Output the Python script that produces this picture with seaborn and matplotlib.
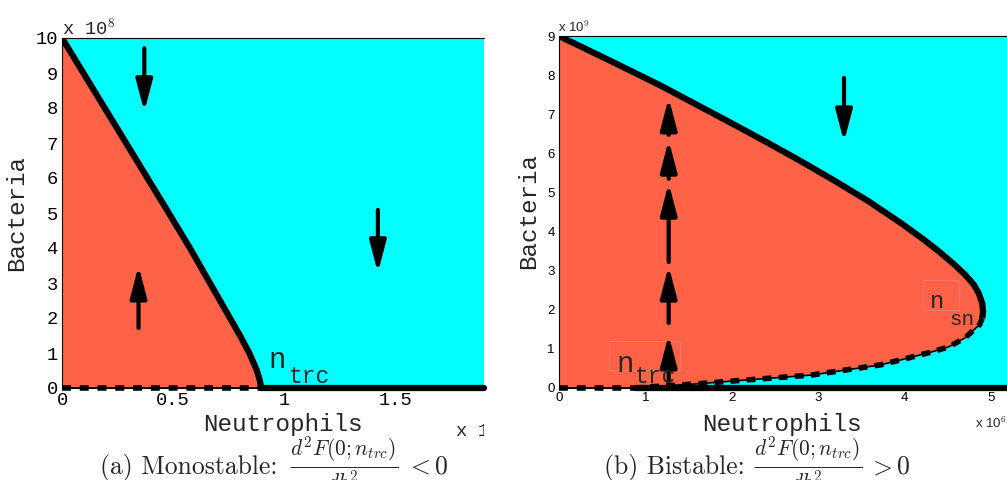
import numpy as np
import pandas as pd
import matplotlib
matplotlib.use('Agg')
import matplotlib.pyplot as plt
import matplotlib.transforms as mtransforms
from matplotlib.patches import Rectangle
import seaborn as sns

# ---- data ----
# (a) monostable: separatrix from (0, 10e8) down to n_trc
mono_x = [0.0, 0.096, 0.192, 0.288, 0.384, 0.48, 0.575, 0.665, 0.71, 0.755, 0.80, 0.842, 0.876, 0.89, 0.895]
mono_y = [10.0, 9.0, 8.0, 7.0, 6.0, 5.0, 4.0, 3.0, 2.5, 2.0, 1.5, 1.0, 0.5, 0.2, 0.0]
mono_ntrc = 0.895
mono_xmax = 1.897

# (b) bistable: upper (stable) and lower (unstable) branches
upper_x = [0.0, 0.6, 1.17, 1.52, 1.99, 2.40, 2.80, 3.19, 3.58, 3.97, 4.22, 4.40,
           4.58, 4.70, 4.80, 4.86, 4.90, 4.91, 4.90]
upper_y = [9.0, 8.36, 7.74, 7.33, 6.78, 6.29, 5.80, 5.30, 4.78, 4.20, 3.80, 3.49,
           3.15, 2.90, 2.65, 2.42, 2.17, 1.95, 1.78]
lower_x = [4.90, 4.87, 4.70, 4.51, 4.31, 4.05, 3.72, 2.92, 2.14, 1.56, 1.06, 0.9]
lower_y = [1.78, 1.62, 1.28, 1.05, 0.92, 0.77, 0.59, 0.33, 0.20, 0.10, 0.03, 0.0]
bi_ntrc = 0.88
bi_xmax = 5.21

# arrows: (x, y_tail, y_tip)
mono_arrows = [(0.37, 9.71, 7.89), (0.344, 1.71, 3.49), (1.42, 5.09, 3.29)]
bi_arrows = [(3.30, 7.93, 6.29), (1.27, 0.2, 1.36), (1.27, 1.66, 3.12),
             (1.27, 3.22, 5.24), (1.27, 5.35, 6.34), (1.27, 6.47, 7.42)]

mono_yticks = list(range(0, 11))
mono_xticks = [0, 0.5, 1, 1.5]
mono_xticklabels = ['0', '0.5', '1', '1.5']
bi_yticks = list(range(0, 10))
bi_xticks = [0, 1, 2, 3, 4, 5]

caption_heads = ['(a) Monostable:', '(b) Bistable:']
caption_frac = r'$\frac{d^2F(0;n_{trc})}{db^2}$'
caption_tails = [r'$< 0$', r'$> 0$']

CYAN = '#00FFFF'
TOMATO = '#FF6347'
MONO = 'Liberation Mono'
SANS = 'Liberation Sans'

sns.set_style('white')
plt.rcParams['font.family'] = ['DejaVu Sans']
plt.rcParams['mathtext.fontset'] = 'cm'

W, H = 1007, 480
fig = plt.figure(figsize=(W / 100, H / 100), dpi=100)
ax1 = fig.add_axes([62 / W, 1 - 388 / H, 422 / W, 350 / H])
ax2 = fig.add_axes([559 / W, 1 - 388 / H, 450 / W, 352 / H])

line_kw = dict(solid_joinstyle='round', solid_capstyle='butt')


def arrow(ax, x, y0, y1):
    ax.annotate('', xy=(x, y1), xytext=(x, y0),
                arrowprops=dict(arrowstyle='-|>,head_length=1.9,head_width=0.5',
                                lw=3, color='black', shrinkA=0, shrinkB=0),
                zorder=6)


def style_axes(ax, font, size):
    ax.set_facecolor(CYAN)
    ax.spines['right'].set_visible(False)
    for s in ['left', 'top', 'bottom']:
        ax.spines[s].set_color('black')
        ax.spines[s].set_linewidth(0.8)
    ax.tick_params(direction='in', length=3, width=0.6, colors='black',
                   labelsize=size, pad=3)
    for lab in ax.get_xticklabels() + ax.get_yticklabels():
        lab.set_fontfamily(font)


# ---------------- (a) monostable ----------------
mono = pd.DataFrame({'x': mono_x, 'y': mono_y})
ax1.fill_betweenx(mono['y'], 0, mono['x'], color=TOMATO, lw=0, zorder=1)
sns.lineplot(data=mono, x='x', y='y', sort=False, estimator=None, ax=ax1,
             color='black', lw=4.5, zorder=4, **line_kw)
ax1.plot([0, mono_ntrc], [0, 0], color='black', lw=1.2, zorder=3)
ax1.plot([0, mono_ntrc], [0, 0], color='black', lw=4, dashes=(1.6, 1.6), zorder=4,
         clip_on=False)
ax1.plot([mono_ntrc, mono_xmax], [0, 0], color='black', lw=4.5, zorder=4, clip_on=False)
for x, a, b in mono_arrows:
    arrow(ax1, x, a, b)

ax1.set_xlim(0, mono_xmax)
ax1.set_ylim(0, 10)
ax1.set_xticks(mono_xticks)
ax1.set_xticklabels(mono_xticklabels)
ax1.set_yticks(mono_yticks)
style_axes(ax1, MONO, 13.5)
ax1.set_xlabel('Neutrophils', fontfamily=MONO, fontsize=17.5)
ax1.set_ylabel('Bacteria', fontfamily=MONO, fontsize=17.5)
ax1.xaxis.set_label_coords(0.524, -0.072)
ax1.yaxis.set_label_coords(-0.08, 0.5)
ax1.text(0.93, 0.57, 'n', fontfamily=MONO, fontsize=21, zorder=7)
ax1.text(1.02, 0.14, 'trc', fontfamily=MONO, fontsize=16.5, zorder=7)
ax1.text(62 / W, 1 - 35 / H, r'x 10$^{8}$', transform=fig.transFigure,
         fontfamily=MONO, fontsize=13.5, va='baseline')
t = fig.text(455 / W, 1 - 437 / H, r'x 10$^{6}$', fontfamily=MONO, fontsize=13.5,
             va='baseline')
t.set_clip_on(True)
t.set_clip_box(mtransforms.TransformedBbox(
    mtransforms.Bbox.from_extents(0, 0, 484 / W, 1), fig.transFigure))

# ---------------- (b) bistable ----------------
up = pd.DataFrame({'x': upper_x, 'y': upper_y})
lo = pd.DataFrame({'x': lower_x, 'y': lower_y})
poly_x = upper_x + lower_x + [0.0]
poly_y = upper_y + lower_y + [0.0]
ax2.fill(poly_x, poly_y, color=TOMATO, lw=0, zorder=1)
sns.lineplot(data=up, x='x', y='y', sort=False, estimator=None, ax=ax2,
             color='black', lw=4.5, zorder=4, **line_kw)
sns.lineplot(data=lo, x='x', y='y', sort=False, estimator=None, ax=ax2,
             color='black', lw=1.2, zorder=4, **line_kw)
ax2.plot(lo['x'], lo['y'], color='black', lw=4, dashes=(1.6, 1.3), zorder=4)
ax2.plot([0, bi_ntrc], [0, 0], color='black', lw=1.2, zorder=3)
ax2.plot([0, bi_ntrc], [0, 0], color='black', lw=4, dashes=(1.6, 1.6), zorder=4,
         clip_on=False)
ax2.plot([bi_ntrc, bi_xmax], [0, 0], color='black', lw=4.5, zorder=4, clip_on=False)
for x, a, b in bi_arrows:
    arrow(ax2, x, a, b)

ax2.set_xlim(0, bi_xmax)
ax2.set_ylim(0, 9)
ax2.set_xticks(bi_xticks)
ax2.set_yticks(bi_yticks)
style_axes(ax2, SANS, 9.5)
ax2.set_xlabel('Neutrophils', fontfamily=MONO, fontsize=17.5)
ax2.set_ylabel('Bacteria', fontfamily=MONO, fontsize=17.5)
ax2.xaxis.set_label_coords(0.496, -0.07)
ax2.yaxis.set_label_coords(-0.042, 0.503)
ax2.text(0.67, 0.41, 'n', fontfamily=MONO, fontsize=21, zorder=7)
ax2.text(0.88, 0.13, 'trc', fontfamily=MONO, fontsize=16.5, zorder=7)
ax2.text(4.30, 2.05, 'n', fontfamily=MONO, fontsize=17, zorder=7)
ax2.text(4.52, 1.61, 'sn', fontfamily=MONO, fontsize=15, zorder=7)
for (x0, y0, x1, y1) in [(0.58, 0.46, 1.40, 1.20), (4.22, 2.0, 4.63, 2.76)]:
    ax2.add_patch(Rectangle((x0, y0), x1 - x0, y1 - y0, fill=False,
                            ec='#F08080', lw=0.5, zorder=5))
fig.text(558 / W, 1 - 32 / H, r'x 10$^{9}$', fontfamily=SANS, fontsize=9.5, va='baseline')
fig.text(975 / W, 1 - 428 / H, r'x 10$^{6}$', fontfamily=SANS, fontsize=9.5, va='baseline')

# captions: head text, fraction, relation
base = 1 - 474 / H
for head, tail, (x_head, x_frac, x_tail) in zip(
        caption_heads, caption_tails, [(277, 290, 406), (745, 754, 868)]):
    fig.text(x_head / W, base, head, fontfamily='cmr10', fontsize=18.5,
             ha='right', va='baseline')
    fig.text(x_frac / W, base, caption_frac, fontsize=22, ha='left', va='baseline')
    fig.text(x_tail / W, base, tail, fontsize=18.5, ha='left', va='baseline')

fig.savefig('out.png', dpi=100)
